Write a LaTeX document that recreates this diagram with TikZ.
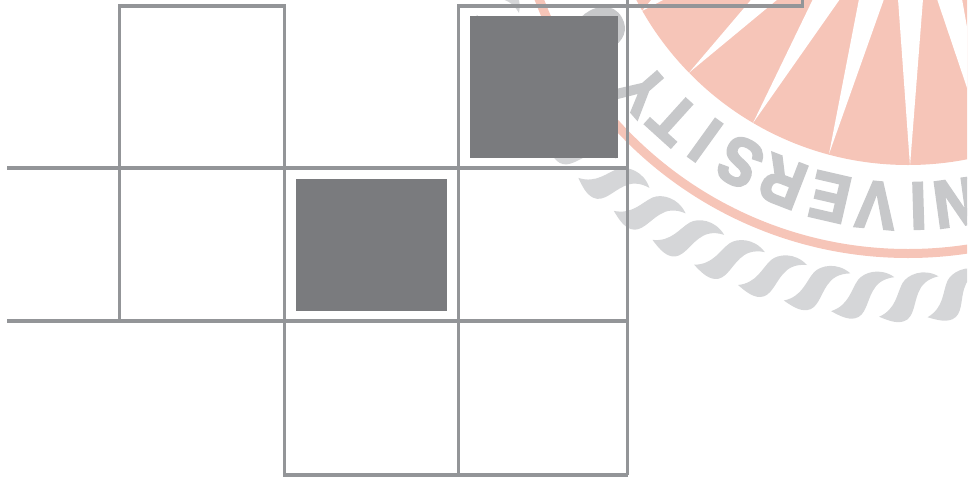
\documentclass[tikz,border=0pt]{standalone}
\usepackage{fontspec}
\usepackage{xcolor}
\usetikzlibrary{calc}
\newfontfamily\sealfont[BoldFont={Liberation Sans Bold},BoldFeatures={FakeBold=3.5,FakeStretch=0.88}]{Liberation Sans}
\definecolor{acgrid}{RGB}{147,149,152}
\definecolor{acblock}{RGB}{122,123,126}
\definecolor{acpeach}{RGB}{246,197,184}
\definecolor{acletter}{RGB}{199,200,202}
\definecolor{acrope}{RGB}{213,214,216}

\begin{document}
\begin{tikzpicture}[
  x=1pt, y=-1pt,
  gridline/.style={draw=acgrid, line width=3.6pt},
  block/.style={fill=acblock},
  gap/.style={fill=white},
  rim/.style={draw=acpeach, line width=9pt},
  sealletter/.style={font=\sealfont\fontsize{67}{67}\selectfont\bfseries, text=acletter, inner sep=0pt, anchor=center}
]
  \useasboundingbox (0,0) rectangle (973,482);
  \def\rowA{6}\def\rowB{168}\def\rowC{321}\def\rowD{475}
  \def\colA{119.5}\def\colB{284.5}\def\colC{458.5}\def\colD{627.5}
  \coordinate (seal) at (908,-141);

  % faded seal behind the grid
  \begin{scope}
    \clip (0,0) rectangle (967,482);
    \fill[acpeach] (seal) circle[radius=306];
    \fill[gap] (642,11) -- (652,-1) -- (665,-1) -- cycle;
    \fill[gap] (689,72.7) -- (751.7,-1) -- (778,-1) -- cycle;
    \fill[gap] (753,123) -- (813,-1) -- (840,-1) -- cycle;
    \fill[gap] (829,154) -- (859,-1) -- (884,-1) -- cycle;
    \fill[gap] (910,166) -- (898,-1) -- (923,-1) -- cycle;
    \fill[gap] (990,156) -- (937,-1) -- (962,-1) -- cycle;
    \draw[rim] (seal) circle[radius=394.5];

    % rope
    \foreach \k in {-11,...,5}
      \fill[acrope, rotate around={6.05*\k:(seal)}]
        (738,285) .. controls (757,283) and (762,268) .. (771,260)
        .. controls (778,254) and (795,252) .. (807,265)
        .. controls (795,264) and (788,268) .. (783,274)
        .. controls (775,283) and (771,297) .. (760,297)
        .. controls (752,297) and (745,291) .. (738,285) -- cycle;

    % lettering
    \foreach \ch/\ang/\rad [count=\i] in {N/-82.2/347,I/-88.3/347,V/-95.3/347.5,E/-103/347,R/-111.2/346,S/-119/346.5,I/-125.8/346.7,T/-132.1/350,Y/-139/352,O/-151/352}
      \node[sealletter, rotate=\ang-90] (letter\i) at ({908+\rad*cos(\ang)},{-141-\rad*sin(\ang)}) {\ch};
  \end{scope}

  % dark squares
  \fill[block] (470,16) rectangle (618,158);
  \fill[block] (296,179) rectangle (447,311);

  % grid
  \draw[gridline] (\colA,\rowC) -- (\colA,\rowA) -- (\colB,\rowA);
  \draw[gridline] (\colB,4) -- (\colB,\rowD) -- (\colD,\rowD);
  \draw[gridline] (\colC,\rowD) -- (\colC,\rowA) -- (802.5,\rowA) -- (802.5,0);
  \draw[gridline] (\colD,0) -- (\colD,\rowD);
  \draw[gridline] (7,\rowB) -- (\colD,\rowB);
  \draw[gridline] (7,\rowC) -- (\colD,\rowC);
\end{tikzpicture}
\end{document}
